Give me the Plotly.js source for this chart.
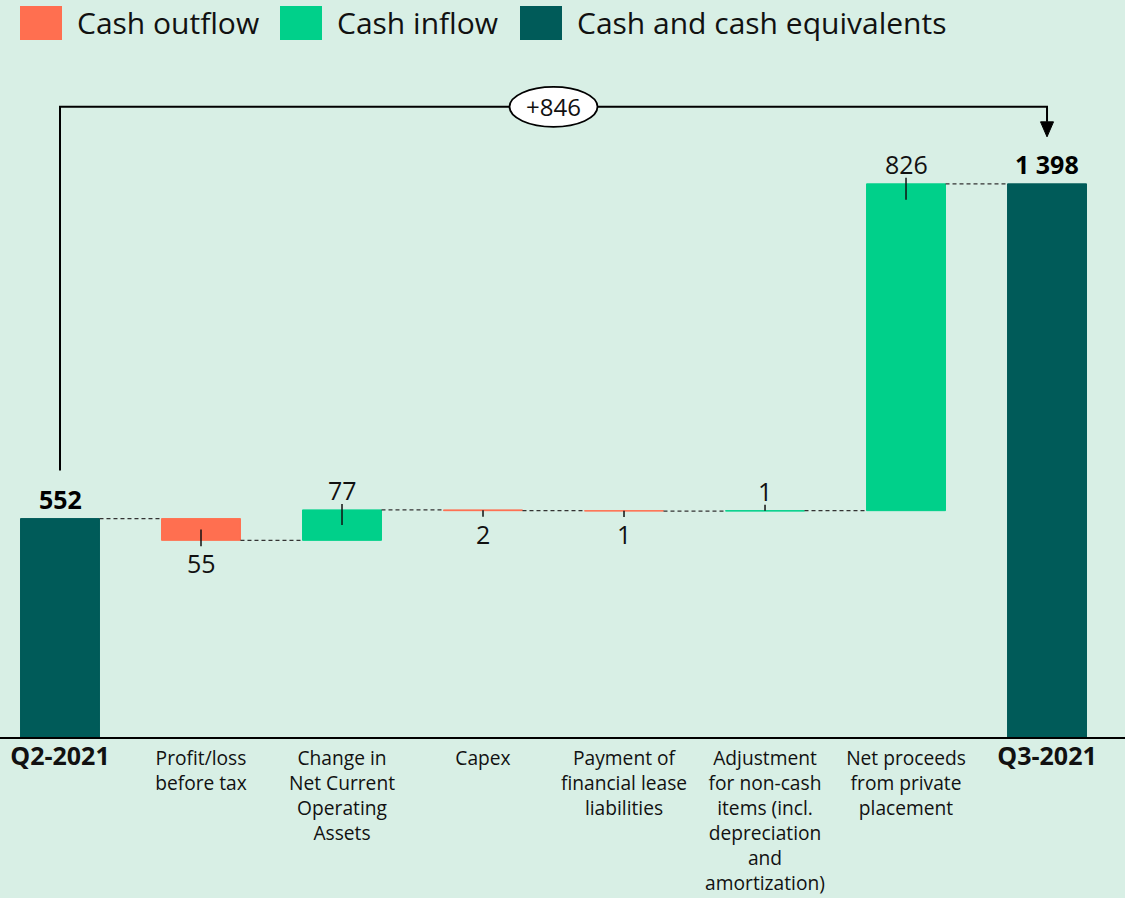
<!DOCTYPE html>
<html>
<head>
<meta charset="utf-8">
<script src="https://cdn.plot.ly/plotly-3.0.1.min.js"></script>
<style>
  html, body { margin: 0; padding: 0; background: #D8EFE5; }
  #chart { width: 1125px; height: 898px; }
</style>
</head>
<body>
<div id="chart"></div>
<script>
// ---- Data ----
const categories = ['Q2-2021', 'Profit/loss before tax', 'Change in Net Current Operating Assets', 'Capex',
  'Payment of financial lease liabilities', 'Adjustment for non-cash items (incl. depreciation and amortization)',
  'Net proceeds from private placement', 'Q3-2021'];
const tickLabels = [
  '<b><span style="font-size:25px">Q2-2021</span></b>',
  'Profit/loss<br>before tax',
  'Change in<br>Net Current<br>Operating<br>Assets',
  'Capex',
  'Payment of<br>financial lease<br>liabilities',
  'Adjustment<br>for non-cash<br>items (incl.<br>depreciation<br>and<br>amortization)',
  'Net proceeds<br>from private<br>placement',
  '<b><span style="font-size:25px">Q3-2021</span></b>'
];
const values = [552, -55, 77, -2, -1, 1, 826, 1398];
const kinds = ['total', 'delta', 'delta', 'delta', 'delta', 'delta', 'delta', 'total'];
const legendNames = ['Cash outflow', 'Cash inflow', 'Cash and cash equivalents'];
const colors = { out: '#FF6F50', in: '#00D08A', total: '#005B59' };

// ---- Layout constants ----
const W = 1125, H = 898;
const mT = 60, mB = 161;
const plotH = H - mT - mB;
const yMax = 1711;
const pxU = plotH / yMax;         // pixels per unit
const barW = 0.56;
const FONT = 'Open Sans, Noto Sans, sans-serif';

// ---- Waterfall computation ----
const bases = [], heights = [], levels = [];
let level = 0;
values.forEach((v, i) => {
  if (kinds[i] === 'total') { bases.push(0); heights.push(v); level = v; }
  else { bases.push(v < 0 ? level + v : level); heights.push(Math.abs(v)); level += v; }
  levels.push(level);
});

function pick(cond) {
  const x = [], y = [], b = [];
  values.forEach((v, i) => { if (cond(v, i)) { x.push(categories[i]); y.push(heights[i]); b.push(bases[i]); } });
  return { x, y, b };
}
const outD = pick((v, i) => kinds[i] === 'delta' && v < 0);
const inD = pick((v, i) => kinds[i] === 'delta' && v > 0);
const totD = pick((v, i) => kinds[i] === 'total');

function barTrace(d, color, name) {
  return {
    type: 'bar', x: d.x, y: d.y, base: d.b, name: name, width: barW,
    marker: { color: color, line: { color: color, width: 1 } },
    hoverinfo: 'skip', showlegend: false
  };
}
const traces = [
  barTrace(outD, colors.out, legendNames[0]),
  barTrace(inD, colors.in, legendNames[1]),
  barTrace(totD, colors.total, legendNames[2])
];

const fmt = n => String(n).replace(/\B(?=(\d{3})+(?!\d))/g, ' ');

const shapes = [], annotations = [];

// connectors
for (let i = 0; i < values.length - 1; i++) {
  shapes.push({ type: 'line', xref: 'x', yref: 'y', x0: i + barW / 2, x1: i + 1 - barW / 2,
    y0: levels[i], y1: levels[i], line: { color: '#333', width: 1.2, dash: '4px,3px' } });
}

// value labels and leader ticks
values.forEach((v, i) => {
  const top = bases[i] + heights[i], bot = bases[i];
  const hPx = heights[i] * pxU;
  if (kinds[i] === 'total') {
    annotations.push({ x: i, y: top, xref: 'x', yref: 'y', text: '<b>' + fmt(v) + '</b>', showarrow: false,
      yanchor: 'middle', yshift: 20, font: { size: 25, color: '#000', family: FONT } });
  } else if (v > 0) {
    annotations.push({ x: i, y: top, xref: 'x', yref: 'y', text: fmt(Math.abs(v)), showarrow: false,
      yanchor: 'middle', yshift: 20, font: { size: 25, color: '#111', family: FONT } });
    const inside = Math.min(hPx / 2, 16);
    shapes.push({ type: 'line', xref: 'x', yref: 'y', x0: i, x1: i, y0: top + 6 / pxU, y1: top - inside / pxU,
      line: { color: '#111', width: 1.5 } });
  } else {
    annotations.push({ x: i, y: bot, xref: 'x', yref: 'y', text: fmt(Math.abs(v)), showarrow: false,
      yanchor: 'middle', yshift: -23, font: { size: 25, color: '#111', family: FONT } });
    const inside = Math.min(hPx / 2, 11);
    shapes.push({ type: 'line', xref: 'x', yref: 'y', x0: i, x1: i, y0: bot - 6 / pxU, y1: bot + inside / pxU,
      line: { color: '#111', width: 1.5 } });
  }
});

// bracket showing overall change
const iStart = 0, iEnd = values.length - 1;
const startVal = values[iStart], endVal = values[iEnd];
const bracketY = endVal + 77 / pxU;
const startY = startVal + 48 / pxU;
const arrowBaseY = bracketY - 15 / pxU;
const arrowTipY = bracketY - 30 / pxU;
shapes.push({ type: 'path', xref: 'x', yref: 'y',
  path: `M ${iStart} ${startY} L ${iStart} ${bracketY} L ${iEnd} ${bracketY} L ${iEnd} ${arrowBaseY}`,
  line: { color: '#000', width: 2 } });
const aw = 6.5 / 141;
shapes.push({ type: 'path', xref: 'x', yref: 'y',
  path: `M ${iEnd - aw} ${arrowBaseY} L ${iEnd + aw} ${arrowBaseY} L ${iEnd} ${arrowTipY} Z`,
  fillcolor: '#000', line: { color: '#000', width: 1 } });
const mid = (iStart + iEnd) / 2;
const ex = 44 / 141, ey = 20 / pxU;
shapes.push({ type: 'circle', xref: 'x', yref: 'y', x0: mid - ex, x1: mid + ex, y0: bracketY - ey, y1: bracketY + ey,
  fillcolor: '#fff', line: { color: '#000', width: 1.8 } });
annotations.push({ x: mid, y: bracketY, xref: 'x', yref: 'y', text: '+' + fmt(endVal - startVal), showarrow: false,
  font: { size: 24, color: '#111', family: FONT } });

// custom legend
const px2y = p => (H - mB - p) / plotH;
const px2x = p => p / W;
const legendItems = [
  { x: 20, color: colors.out, name: legendNames[0] },
  { x: 280, color: colors.in, name: legendNames[1] },
  { x: 520, color: colors.total, name: legendNames[2] }
];
legendItems.forEach(it => {
  shapes.push({ type: 'rect', xref: 'paper', yref: 'paper', x0: px2x(it.x), x1: px2x(it.x + 42),
    y0: px2y(40), y1: px2y(6), fillcolor: it.color, line: { width: 0 } });
  annotations.push({ xref: 'paper', yref: 'paper', x: px2x(it.x + 55), y: px2y(23), xanchor: 'left', yanchor: 'middle',
    text: it.name, showarrow: false, font: { size: 30, color: '#111', family: FONT } });
});

const layout = {
  width: W, height: H,
  margin: { l: 0, r: 0, t: mT, b: mB, pad: 0 },
  paper_bgcolor: '#D8EFE5', plot_bgcolor: '#D8EFE5',
  barmode: 'overlay',
  showlegend: false,
  font: { family: FONT, color: '#111' },
  xaxis: {
    type: 'category', categoryorder: 'array', categoryarray: categories,
    tickvals: categories, ticktext: tickLabels,
    range: [-0.4255, 7.553], showgrid: false, zeroline: false,
    showline: true, linecolor: '#000', linewidth: 2, ticks: '', ticklabelstandoff: 3,
    tickfont: { size: 19.2, color: '#111', family: FONT }, fixedrange: true
  },
  yaxis: { range: [0, yMax], visible: false, showgrid: false, zeroline: false, fixedrange: true },
  shapes: shapes,
  annotations: annotations
};

Plotly.newPlot('chart', traces, layout, { displayModeBar: false, staticPlot: true });
</script>
</body>
</html>
